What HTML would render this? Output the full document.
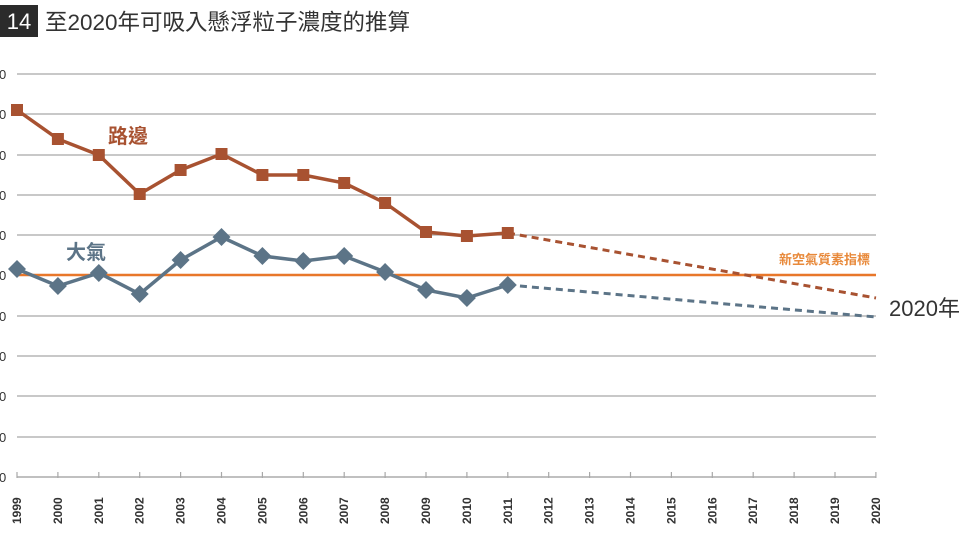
<!DOCTYPE html>
<html><head><meta charset="utf-8"><style>
body{margin:0;background:#fff;}
svg{display:block;}
text{font-family:"Liberation Sans","Noto Sans CJK TC",sans-serif;}
</style></head><body>
<svg width="964" height="540" viewBox="0 0 964 540" xmlns="http://www.w3.org/2000/svg">
<rect x="0" y="5" width="38" height="32" fill="#2b2b2b"/>
<text x="19" y="29" fill="#fff" font-size="22" text-anchor="middle">14</text>
<text x="45" y="30" fill="#333" font-size="22.5">至2020年可吸入懸浮粒子濃度的推算</text>
<g stroke="#a8a8a8" stroke-width="1.2">
<line x1="17" y1="74" x2="876" y2="74"/><line x1="17" y1="114" x2="876" y2="114"/>
<line x1="17" y1="155" x2="876" y2="155"/><line x1="17" y1="195" x2="876" y2="195"/>
<line x1="17" y1="235" x2="876" y2="235"/><line x1="17" y1="316" x2="876" y2="316"/>
<line x1="17" y1="356" x2="876" y2="356"/><line x1="17" y1="396" x2="876" y2="396"/>
<line x1="17" y1="437" x2="876" y2="437"/><line x1="17" y1="477" x2="876" y2="477"/>
</g>
<g fill="#333" font-size="13">
<text x="-1" y="79">0</text><text x="-1" y="119">0</text><text x="-1" y="160">0</text><text x="-1" y="200">0</text><text x="-1" y="240">0</text><text x="-1" y="280">0</text><text x="-1" y="321">0</text><text x="-1" y="361">0</text><text x="-1" y="401">0</text><text x="-1" y="442">0</text><text x="-1" y="482">0</text>
</g>
<g id="ticks" stroke="#a8a8a8" stroke-width="1.2"></g>
<g id="xl" fill="#333" font-size="12" font-weight="bold"></g>
<line x1="17" y1="275" x2="876" y2="275" stroke="#e8772a" stroke-width="2.5"/>
<text x="870" y="264" fill="#e8893a" font-size="13" text-anchor="end" font-weight="bold">新空氣質素指標</text>
<polyline id="rd" fill="none" stroke="#a85231" stroke-width="3.5"/>
<line x1="508" y1="233" x2="876" y2="298" stroke="#a85231" stroke-width="3" stroke-dasharray="7,5"/>
<polyline id="at" fill="none" stroke="#5c7487" stroke-width="3.5"/>
<line x1="508" y1="285" x2="876" y2="317" stroke="#5c7487" stroke-width="3" stroke-dasharray="7,5"/>
<g id="m"></g>
<text x="108" y="143" fill="#a85231" font-size="20" font-weight="bold">路邊</text>
<text x="66" y="259" fill="#5c7487" font-size="20" font-weight="bold">大氣</text>
<text x="889" y="316" fill="#333" font-size="22">2020年</text>
</svg>
<script>
var ns="http://www.w3.org/2000/svg",sx=40.9,x0=17;
var rd=[110,139,155,194,170,154,175,175,183,203,232,236,233];
var at=[269,286,273,294,260,237,256,261,256,272,290,298,285];
function X(i){return x0+i*sx;}
var t=document.getElementById('ticks'),xl=document.getElementById('xl'),m=document.getElementById('m');
var p=document.createElementNS(ns,'path');p.setAttribute('d','M17 477H876');t.appendChild(p);
for(var i=0;i<=21;i++){var l=document.createElementNS(ns,'line');l.setAttribute('x1',X(i));l.setAttribute('x2',X(i));l.setAttribute('y1',472);l.setAttribute('y2',478);t.appendChild(l);
var tx=document.createElementNS(ns,'text');tx.setAttribute('transform','translate('+(X(i)+4)+',524) rotate(-90)');tx.textContent=1999+i;xl.appendChild(tx);}
document.getElementById('rd').setAttribute('points',rd.map(function(v,i){return X(i)+','+v}).join(' '));
document.getElementById('at').setAttribute('points',at.map(function(v,i){return X(i)+','+v}).join(' '));
rd.forEach(function(v,i){var r=document.createElementNS(ns,'rect');r.setAttribute('x',X(i)-6);r.setAttribute('y',v-6);r.setAttribute('width',12);r.setAttribute('height',12);r.setAttribute('fill','#a85231');m.appendChild(r);});
at.forEach(function(v,i){var r=document.createElementNS(ns,'polygon');var x=X(i);r.setAttribute('points',x+','+(v-9)+' '+(x+9)+','+v+' '+x+','+(v+9)+' '+(x-9)+','+v);r.setAttribute('fill','#5c7487');m.appendChild(r);});
</script>
</body></html>
